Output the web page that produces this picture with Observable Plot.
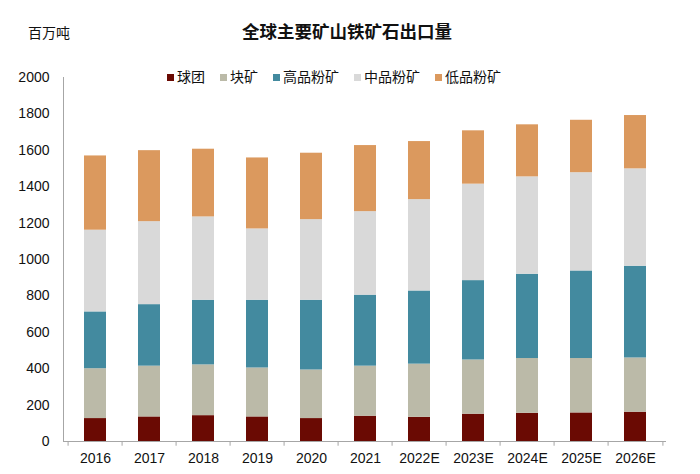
<!DOCTYPE html>
<html>
<head>
<meta charset="utf-8">
<script src="https://cdn.jsdelivr.net/npm/d3@7"></script>
<script src="https://cdn.jsdelivr.net/npm/@observablehq/plot@0.6"></script>
<style>
  html, body { margin: 0; padding: 0; background: #fff; }
  #wrap { position: relative; width: 700px; height: 474px; font-family: "Liberation Sans", Arial, "Noto Sans CJK SC", sans-serif; color: #111; }
  #unit { position: absolute; left: 28px; top: 23px; font-size: 14px; line-height: 20px; }
  #title { position: absolute; left: 0; width: 694px; text-align: center; top: 21px; font-size: 17.5px; font-weight: bold; line-height: 22px; }
  #legend { position: absolute; left: 167px; top: 67px; display: flex; align-items: center; font-size: 14px; line-height: 20px; }
  #legend .item { display: flex; align-items: center; margin-right: 15px; }
  #legend .sw { width: 7px; height: 7px; margin-right: 3px; }
  #chart { position: absolute; left: 0; top: 0; }
</style>
</head>
<body>
<div id="wrap">
  <div id="chart"></div>
  <div id="unit">百万吨</div>
  <div id="title">全球主要矿山铁矿石出口量</div>
  <div id="legend"></div>
</div>
<script>
const categories = ["2016","2017","2018","2019","2020","2021","2022E","2023E","2024E","2025E","2026E"];
const seriesNames = ["球团","块矿","高品粉矿","中品粉矿","低品粉矿"];
const pellets  = [126, 135, 142, 135, 126, 139, 133, 150, 155, 157, 161];
const lump     = [274, 279, 279, 269, 267, 275, 292, 298, 301, 299, 298];
const highFine = [312, 338, 355, 372, 383, 390, 402, 436, 463, 481, 504];
const midFine  = [449, 456, 458, 392, 443, 459, 502, 530, 535, 540, 535];
const lowFine  = [408, 390, 372, 390, 365, 363, 319, 293, 286, 288, 293];
const yTicks = [0, 200, 400, 600, 800, 1000, 1200, 1400, 1600, 1800, 2000];
const colors = ["#6a0a03", "#bbbaa8", "#438a9f", "#d9d9d9", "#db995e"];

const seriesValues = [pellets, lump, highFine, midFine, lowFine];
const data = [];
seriesNames.forEach((s, i) => {
  categories.forEach((c, j) => data.push({year: c, series: s, value: seriesValues[i][j]}));
});

// legend
const leg = document.getElementById("legend");
seriesNames.forEach((s, i) => {
  const it = document.createElement("div");
  it.className = "item";
  it.innerHTML = `<span class="sw" style="background:${colors[i]}"></span><span>${s}</span>`;
  leg.appendChild(it);
});

const W = 700, H = 474, mL = 63, mR = 34, mT = 77, mB = 33;
const step = (W - mL - mR) / (categories.length - 0.6 + 0.6);

const plot = Plot.plot({
  width: W,
  height: H,
  marginLeft: mL,
  marginRight: mR,
  marginTop: mT,
  marginBottom: mB,
  style: {fontFamily: '"Liberation Sans", Arial, "Noto Sans CJK SC", sans-serif', fontSize: "14px", color: "#111", background: "transparent"},
  x: {domain: categories, paddingInner: 0.6, paddingOuter: 0.3, axis: null, label: null},
  y: {domain: [0, 2000], axis: null, label: null},
  color: {domain: seriesNames, range: colors},
  marks: [
    Plot.barY(data, {x: "year", y: "value", fill: "series", order: seriesNames}),
    Plot.frame({anchor: "left", stroke: "#a6a6a6"}),
    Plot.ruleY([0], {stroke: "#a6a6a6"}),
    Plot.ruleX(categories, {x: d => d, dx: -step / 2, y1: 0, y2: -26, stroke: "#a6a6a6"}),
    Plot.ruleX([categories[categories.length - 1]], {x: d => d, dx: step / 2, y1: 0, y2: -26, stroke: "#a6a6a6"}),
    Plot.axisY({ticks: yTicks, tickSize: 0, tickPadding: 14, tickFormat: d => String(d), fontSize: 14, label: null}),
    Plot.axisX({tickSize: 0, tickPadding: 12, fontSize: 14, label: null})
  ]
});
document.getElementById("chart").appendChild(plot);
</script>
</body>
</html>
